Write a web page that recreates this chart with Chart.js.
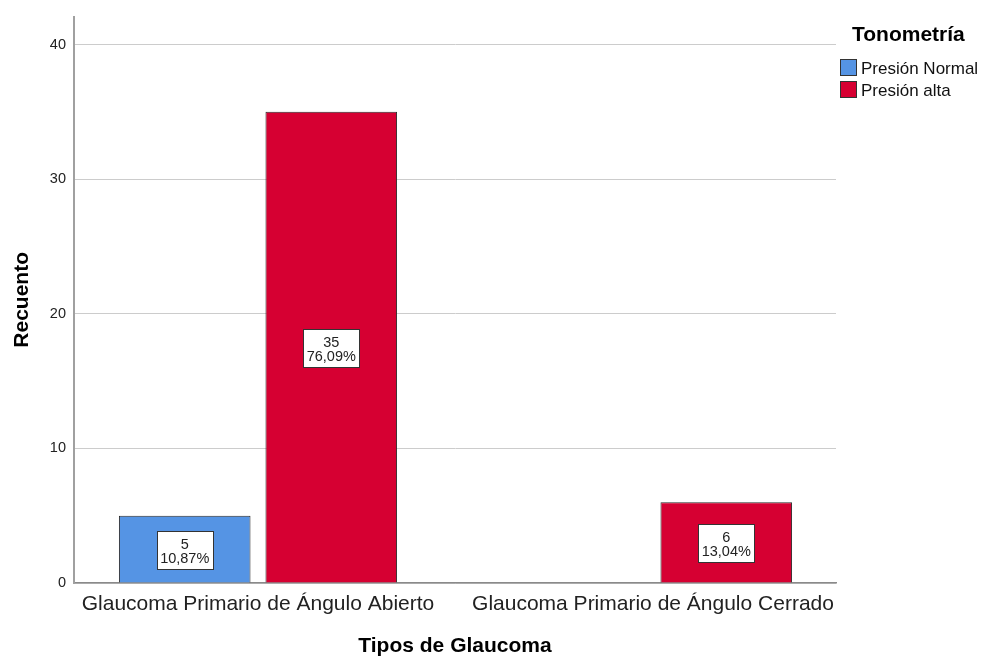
<!DOCTYPE html>
<html>
<head>
<meta charset="utf-8">
<script src="https://cdn.jsdelivr.net/npm/chart.js@4.4.1/dist/chart.umd.min.js"></script>
<style>
html,body{margin:0;padding:0;background:#fff;}
#wrap{width:982px;height:657px;position:relative;}
</style>
</head>
<body>
<div id="wrap"><canvas id="c" width="982" height="657"></canvas></div>
<script>
const categories = ["Glaucoma Primario de Ángulo Abierto", "Glaucoma Primario de Ángulo Cerrado"];
const seriesNames = ["Presión Normal", "Presión alta"];
const presionNormal = [5, 0];
const presionAlta = [35, 6];
const pctNormal = ["10,87%", ""];
const pctAlta = ["76,09%", "13,04%"];
const yTicks = [0, 10, 20, 30, 40];

const FONT = '"Liberation Sans", Arial, sans-serif';
const colors = ['#5594e4', '#d60032'];

const labelPlugin = {
  id: 'extras',
  afterDatasetsDraw(chart) {
    const ctx = chart.ctx;
    const pcts = [pctNormal, pctAlta];
    chart.data.datasets.forEach((ds, di) => {
      const meta = chart.getDatasetMeta(di);
      meta.data.forEach((el, i) => {
        const v = ds.data[i].y;
        if (!v) return;
        const cx = el.x;
        const cy = (el.y + el.base) / 2 + 1;
        ctx.save();
        ctx.font = '14.5px ' + FONT;
        const l1 = String(v), l2 = pcts[di][i];
        const w = Math.max(ctx.measureText(l1).width, ctx.measureText(l2).width) + 7;
        const h = 38;
        const x0 = Math.round(cx - w / 2) + 0.5, y0 = Math.round(cy - h / 2) + 0.5;
        ctx.fillStyle = '#fff';
        ctx.fillRect(x0, y0, Math.round(w), h);
        ctx.strokeStyle = '#333';
        ctx.lineWidth = 1;
        ctx.strokeRect(x0, y0, Math.round(w), h);
        ctx.fillStyle = '#222';
        ctx.textAlign = 'center';
        ctx.textBaseline = 'alphabetic';
        ctx.fillText(l1, cx, cy - 1);
        ctx.fillText(l2, cx, cy + 13);
        ctx.restore();
      });
    });
  },
  afterDraw(chart) {
    const ctx = chart.ctx;
    const area = chart.chartArea;
    ctx.save();
    ctx.fillStyle = '#000';
    ctx.font = 'bold 21px ' + FONT;
    ctx.textAlign = 'center';
    ctx.textBaseline = 'alphabetic';
    ctx.fillText('Tipos de Glaucoma', (area.left + area.right) / 2, 652);
    ctx.save();
    ctx.translate(28, (area.top + area.bottom) / 2);
    ctx.rotate(-Math.PI / 2);
    ctx.fillText('Recuento', 0, 0);
    ctx.restore();
    ctx.textAlign = 'left';
    ctx.fillText('Tonometría', 852, 41);
    ctx.font = '17px ' + FONT;
    seriesNames.forEach((n, i) => {
      const y = 59 + i * 22;
      ctx.fillStyle = colors[i];
      ctx.fillRect(840.5, y + 0.5, 16, 16);
      ctx.strokeStyle = '#333';
      ctx.lineWidth = 1;
      ctx.strokeRect(840.5, y + 0.5, 16, 16);
      ctx.fillStyle = '#111';
      ctx.fillText(n, 861, y + 15);
    });
    ctx.restore();
  }
};

const datasets = [presionNormal, presionAlta].map((vals, di) => ({
  label: seriesNames[di],
  data: vals.map((v, i) => ({ x: i, y: v })),
  backgroundColor: colors[di],
  borderColor: '#2a2a2a',
  borderWidth: 1,
  categoryPercentage: 0.742,
  barPercentage: 0.898
}));

new Chart(document.getElementById('c'), {
  type: 'bar',
  data: { datasets },
  plugins: [labelPlugin],
  options: {
    responsive: false,
    animation: false,
    layout: { padding: { top: 15, right: 146, left: 0, bottom: 0 } },
    plugins: { legend: { display: false }, tooltip: { enabled: false } },
    scales: {
      x: {
        type: 'linear',
        min: -0.4658,
        max: 1.4633,
        offset: false,
        bounds: 'data',
        grid: { display: false, drawTicks: false, offset: false },
        border: { display: true, color: '#8a8a8a', width: 1.5 },
        afterBuildTicks(scale) { scale.ticks = categories.map((c, i) => ({ value: i })); },
        afterFit(scale) { scale.height = 74; },
        ticks: {
          autoSkip: false,
          maxRotation: 0,
          padding: 9,
          color: '#222',
          font: { family: FONT, size: 21 },
          callback: (v) => categories[v] ?? ''
        }
      },
      y: {
        min: 0,
        max: 42.07,
        bounds: 'data',
        afterBuildTicks(scale) { scale.ticks = yTicks.map(v => ({ value: v })); },
        afterFit(scale) { scale.width = 74; },
        grid: { color: '#cccccc', lineWidth: 1, drawTicks: false },
        border: { display: true, color: '#a0a0a0', width: 2 },
        ticks: {
          padding: 8,
          color: '#222',
          font: { family: FONT, size: 14.5 }
        }
      }
    }
  }
});
</script>
</body>
</html>
